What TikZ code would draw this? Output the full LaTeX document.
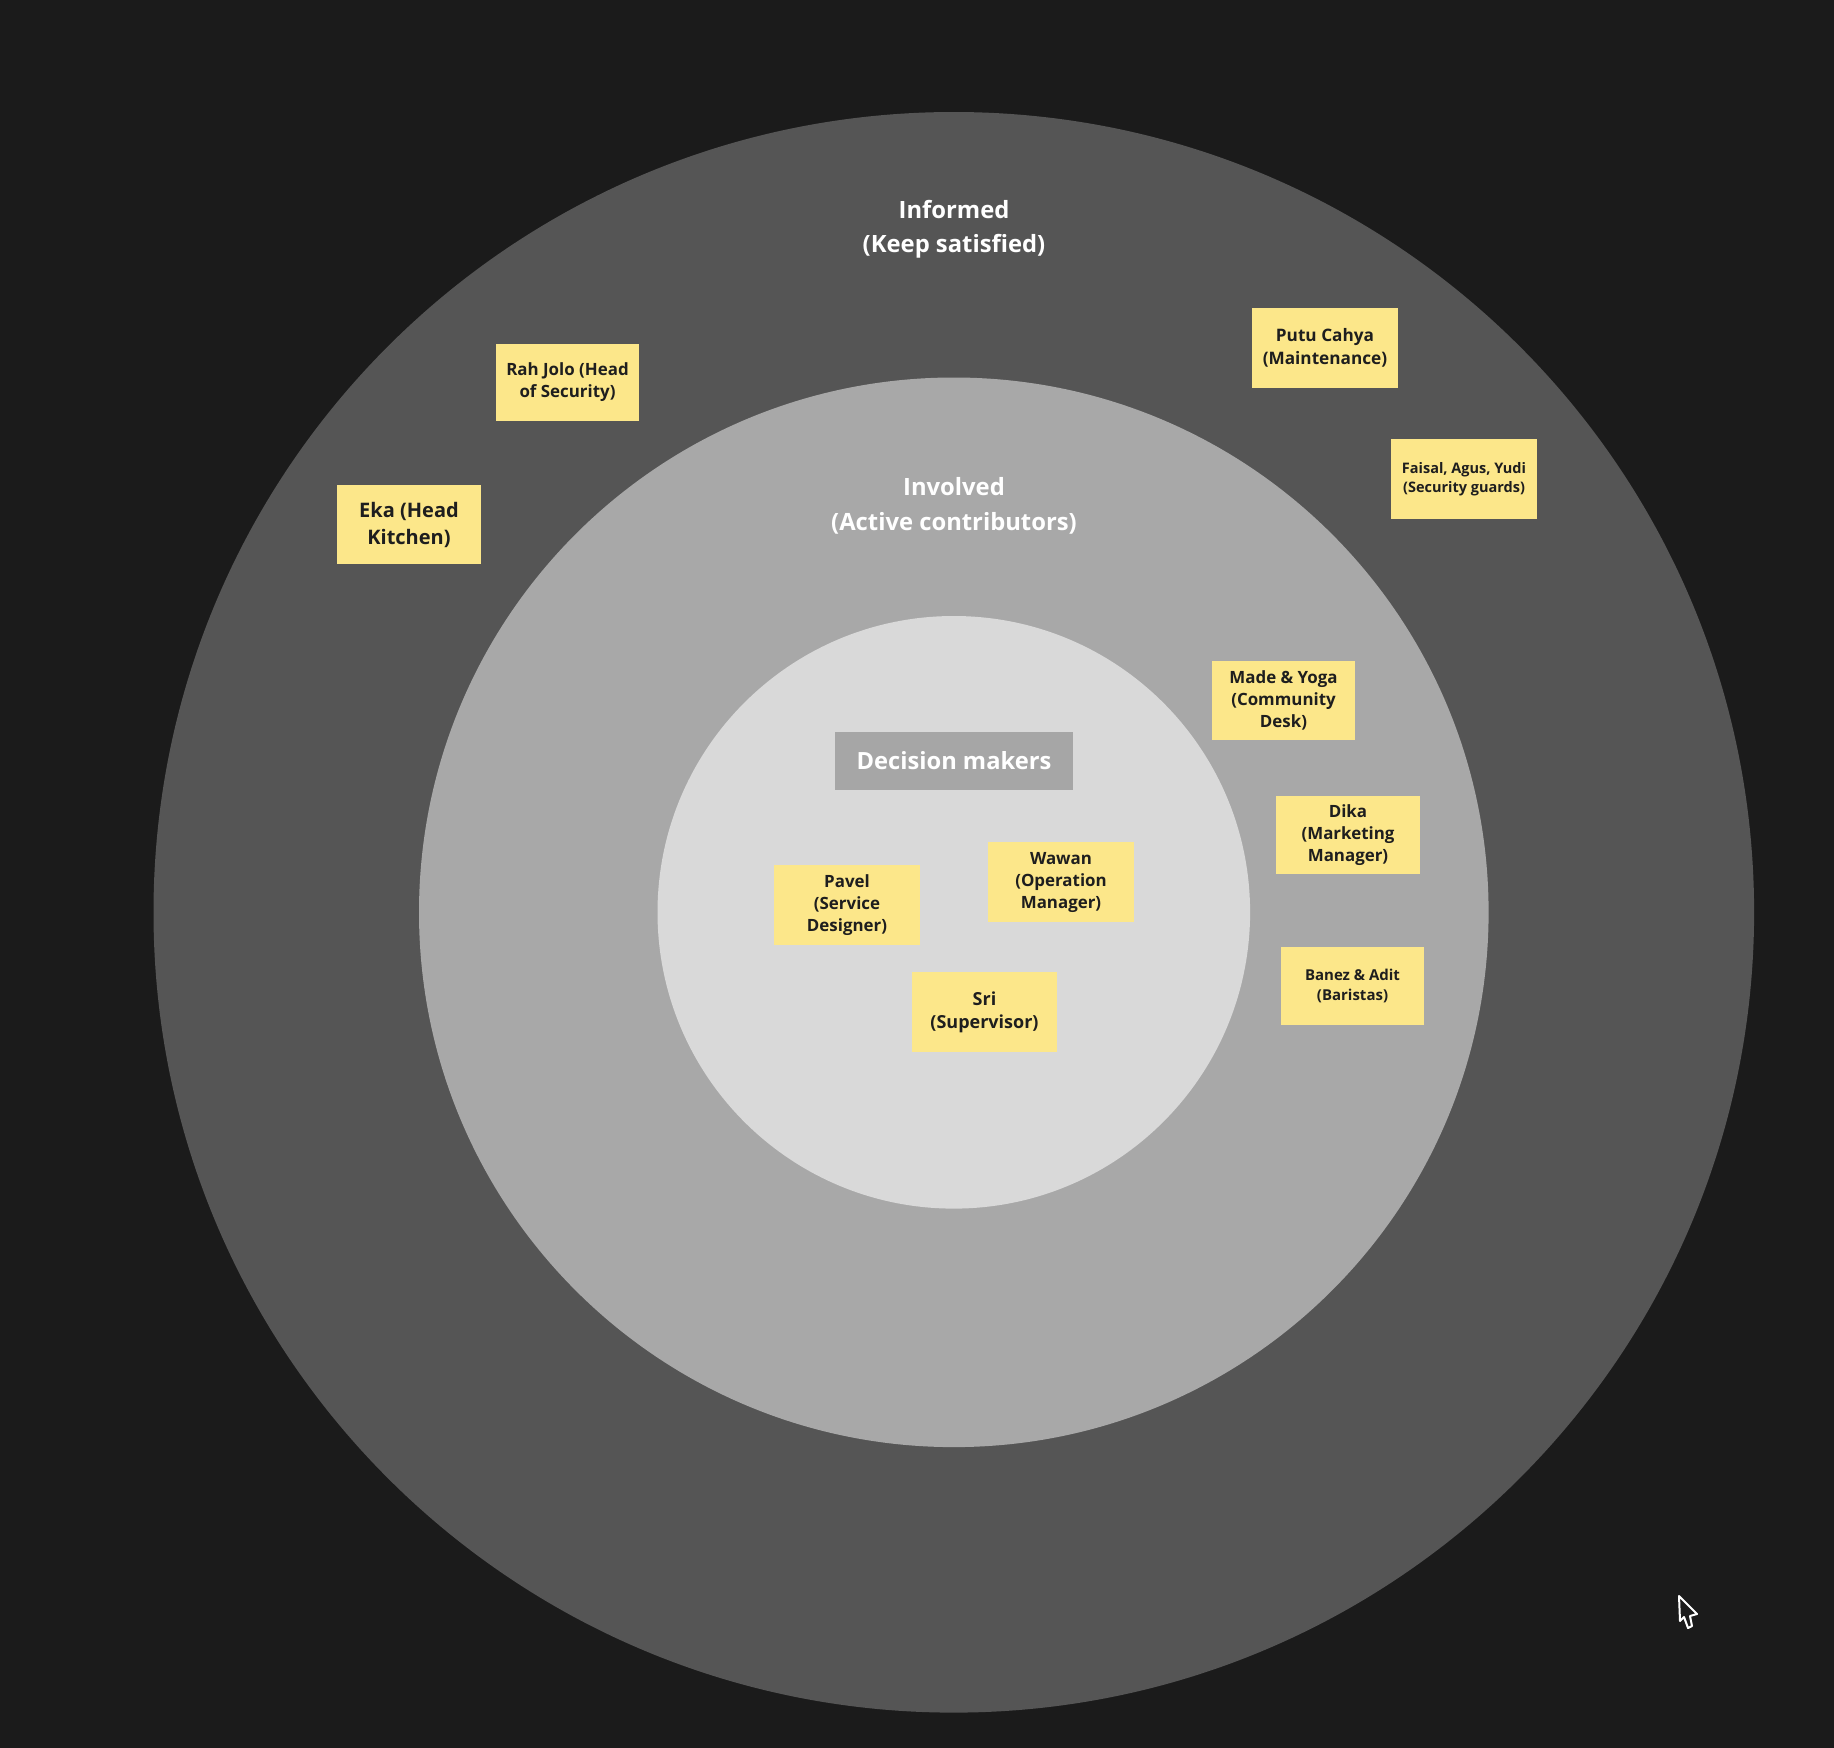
\documentclass[tikz,border=0pt]{standalone}
\usepackage{fontspec}
\setmainfont{Open Sans}
\usepackage{xcolor}
\usepackage{tikz}
\usetikzlibrary{positioning}
\definecolor{bgdark}{RGB}{27, 27, 27}
\definecolor{ringouter}{RGB}{85, 85, 85}
\definecolor{ringmiddle}{RGB}{168, 168, 168}
\definecolor{ringinner}{RGB}{217, 217, 217}
\definecolor{stickyyellow}{RGB}{252, 231, 138}
\definecolor{stickytext}{RGB}{30, 30, 30}
\definecolor{headgray}{RGB}{166, 166, 166}
\tikzstyle{sticky} = [rectangle, fill=stickyyellow, text=stickytext, minimum width=144pt, minimum height=79pt, inner sep=0pt, align=center, font=\fontsize{16.9}{22}\selectfont\bfseries]
\tikzstyle{ringlabel} = [text=white, align=center, font=\fontsize{23.8}{34.5}\selectfont\bfseries]

\begin{document}
\begin{tikzpicture}[x=1pt, y=-1pt]
    % Background
    \fill[bgdark] (0,0) rectangle (1834,1748);
    \useasboundingbox (0,0) rectangle (1834,1748);

    % Rings
    \fill[ringouter] (953.8,912.3) circle (800.3pt);
    \fill[ringmiddle] (953.8,912.3) circle (534.8pt);
    \fill[ringinner] (953.8,912.3) circle (296.3pt);

    % Ring labels
    \node[ringlabel] (informed) at (954, 229) {Informed\\(Keep satisfied)};
    \node[ringlabel] (involved) at (954, 506) {Involved\\(Active contributors)};
    \node[fill=headgray, text=white, minimum width=238pt, minimum height=58pt, inner sep=0pt, font=\fontsize{23.7}{30}\selectfont\bfseries] (decision) at (954, 761) {Decision makers};

    % Informed
    \node[sticky, minimum width=143pt, minimum height=77pt] (rahjolo) at (567.5, 382.5) {Rah Jolo (Head\\of Security)};
    \node[sticky, font=\fontsize{20}{27}\selectfont\bfseries] (eka) at (409, 524.5) {Eka (Head\\Kitchen)};
    \node[sticky, minimum width=146pt, minimum height=80pt, font=\fontsize{17.2}{23}\selectfont\bfseries] (putu) at (1325, 348) {Putu Cahya\\(Maintenance)};
    \node[sticky, minimum width=146pt, minimum height=80pt, font=\fontsize{14.5}{19.5}\selectfont\bfseries] (faisal) at (1464, 479) {Faisal, Agus, Yudi\\(Security guards)};

    % Involved
    \node[sticky, minimum width=143pt] (madeyoga) at (1283.5, 700.5) {Made \& Yoga\\(Community\\Desk)};
    \node[sticky, minimum height=78pt] (dika) at (1348, 835) {Dika\\(Marketing\\Manager)};
    \node[sticky, minimum width=143pt, minimum height=78pt, font=\fontsize{15}{20.5}\selectfont\bfseries] (banez) at (1352.5, 986) {Banez \& Adit\\(Baristas)};

    % Decision makers
    \node[sticky, minimum width=146pt, minimum height=80pt] (pavel) at (847, 905) {Pavel\\(Service\\Designer)};
    \node[sticky, minimum width=146pt, minimum height=80pt] (wawan) at (1061, 882) {Wawan\\(Operation\\Manager)};
    \node[sticky, minimum width=145pt, minimum height=80pt, font=\fontsize{18}{23.3}\selectfont\bfseries] (sri) at (984.5, 1012) {Sri\\(Supervisor)};

    % Cursor
    \draw[white, line width=2pt, line join=round, fill=bgdark] (1679,1596) -- ++(1,25) -- ++(4,-4) -- ++(4,11) -- ++(4,-2) -- ++(-2,-10) -- ++(7,-2) -- cycle;
\end{tikzpicture}
\end{document}
